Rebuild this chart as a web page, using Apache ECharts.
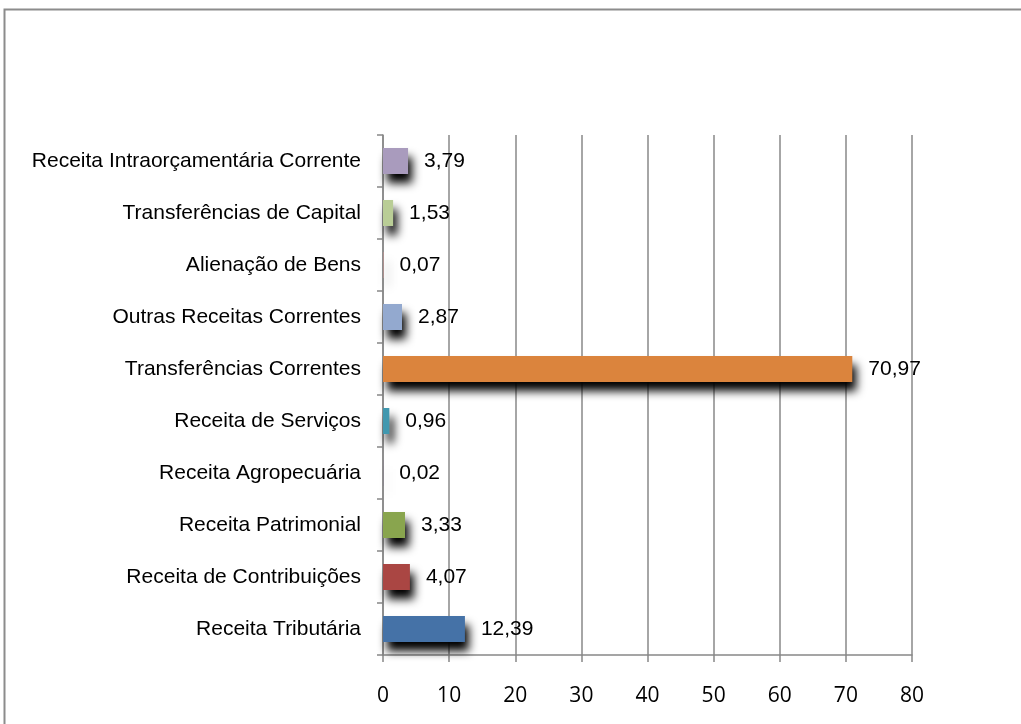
<!DOCTYPE html>
<html>
<head>
<meta charset="utf-8">
<script src="https://cdn.jsdelivr.net/npm/echarts@6/dist/echarts.min.js"></script>
<style>
  html, body { margin: 0; padding: 0; background: #fff; }
  #chart-container { width: 1021px; height: 724px; }
</style>
</head>
<body>
<div id="chart-container"></div>
<script>
var categories = [
  "Receita Tributária",
  "Receita de Contribuições",
  "Receita Patrimonial",
  "Receita Agropecuária",
  "Receita de Serviços",
  "Transferências Correntes",
  "Outras Receitas Correntes",
  "Alienação de Bens",
  "Transferências de Capital",
  "Receita Intraorçamentária Corrente"
];
var values = [12.39, 4.07, 3.33, 0.02, 0.96, 70.97, 2.87, 0.07, 1.53, 3.79];
var colors = ["#4572A7", "#AA4643", "#89A54E", "#71588F", "#4198AF",
  "#DB843D", "#93A9CF", "#D19392", "#B9CD96", "#A99BBD"];
var xTicks = [0, 10, 20, 30, 40, 50, 60, 70, 80];

var dom = document.getElementById("chart-container");
var myChart = echarts.init(dom, null, { renderer: "canvas" });

var option = {
  animation: false,
  graphic: [
    {
      type: "rect",
      shape: { x: 4.5, y: 9.5, width: 1040, height: 740 },
      style: { fill: "none", stroke: "#8c8c8c", lineWidth: 2 }
    }
  ],
  grid: { left: 383, right: 109, top: 135, bottom: 69 },
  xAxis: {
    type: "value",
    min: xTicks[0],
    max: xTicks[xTicks.length - 1],
    interval: 10,
    axisLine: { show: true, lineStyle: { color: "#888", width: 1.5 } },
    axisTick: { show: true, length: 7, lineStyle: { color: "#888", width: 1.5 } },
    splitLine: { show: true, lineStyle: { color: "#888", width: 1.5 } },
    axisLabel: {
      margin: 31,
      color: "#000",
      fontSize: 21,
      fontFamily: "Open Sans"
    }
  },
  yAxis: {
    type: "category",
    data: categories,
    axisLine: { show: true, lineStyle: { color: "#888", width: 1.5 } },
    axisTick: { show: true, length: 6, lineStyle: { color: "#888", width: 1.5 } },
    axisLabel: {
      margin: 22,
      color: "#000",
      fontSize: 21,
      fontFamily: "Liberation Sans"
    }
  },
  series: [
    {
      type: "bar",
      barWidth: 26,
      data: values.map(function (v, i) {
        return { value: v, itemStyle: { color: colors[i] } };
      }),
      itemStyle: {
        shadowColor: "rgba(0,0,0,1)",
        shadowBlur: 10,
        shadowOffsetX: 4,
        shadowOffsetY: 9
      },
      label: {
        show: true,
        position: "right",
        distance: 16,
        color: "#000",
        fontSize: 21,
        fontFamily: "Liberation Sans",
        formatter: function (p) {
          return p.value.toFixed(2).replace(".", ",");
        }
      }
    }
  ]
};

myChart.setOption(option);
window.addEventListener("resize", myChart.resize);
</script>
</body>
</html>
